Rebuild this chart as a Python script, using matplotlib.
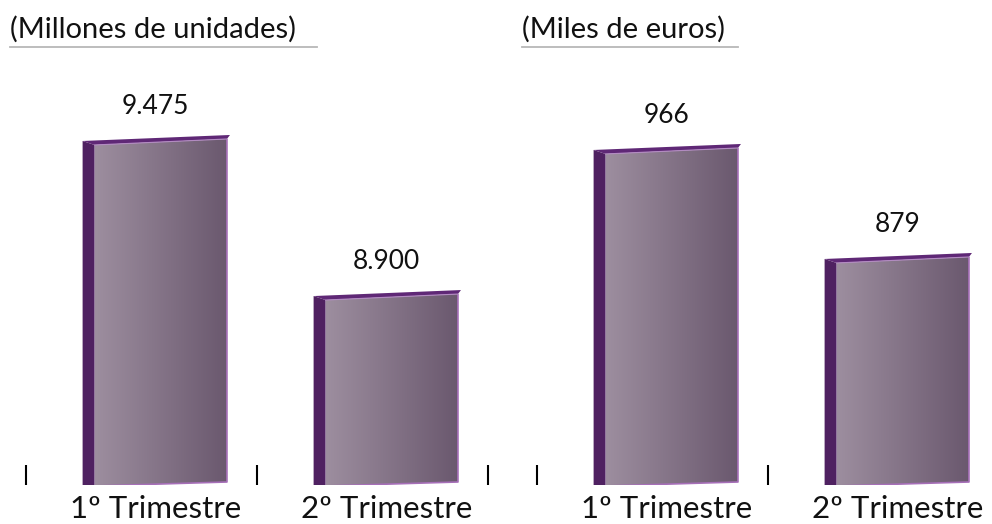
import matplotlib.pyplot as plt
import numpy as np
from matplotlib.patches import Polygon
from matplotlib.lines import Line2D
from matplotlib.colors import LinearSegmentedColormap

# data
categories = ['1º Trimestre', '2º Trimestre']
unidades = [9475, 8900]
unidades_txt = ['9.475', '8.900']
euros = [966, 879]
euros_txt = ['966', '879']
titles = ['(Millones de unidades)', '(Miles de euros)']
ylims = [(8203, 9779), (699.4, 1038.6)]

plt.rcParams['font.family'] = ['Lato', 'DejaVu Sans']

W, H = 992, 524
fig = plt.figure(figsize=(W / 100, H / 100), dpi=100)

front_cmap = LinearSegmentedColormap.from_list('front', ['#9d8e9f', '#6a586e'])
side_col = '#4f2161'
top_col = '#5f2876'
edge_col = '#a66fb8'

base_px = 485
ax_h = 425
panel_x = [26, 537]
panel_w = 462

for p, (vals, txts, ylim) in enumerate(zip([unidades, euros], [unidades_txt, euros_txt], ylims)):
    ax = fig.add_axes([panel_x[p] / W, (H - base_px) / H, panel_w / W, ax_h / H])
    ax.set_xlim(-0.5, 1.5)
    ax.set_ylim(*ylim)
    ux = 2 / panel_w
    uy = (ylim[1] - ylim[0]) / ax_h
    b = ylim[0]
    for i, v in enumerate(vals):
        x0 = i - 0.203
        x1 = i + 0.370
        xs = x0 - 12 * ux
        # side face
        ax.add_patch(Polygon([(xs, b), (x0, b - 1 * uy), (x0, v - 3 * uy), (xs, v + 1 * uy)],
                             closed=True, fc=side_col, ec='none', zorder=2))
        # top face
        ax.add_patch(Polygon([(xs, v + 1 * uy), (x0, v - 3 * uy), (x1, v + 3 * uy),
                              (x1 + 3 * ux, v + 7 * uy)],
                             closed=True, fc=top_col, ec='none', zorder=2))
        # front face with gradient
        front = Polygon([(x0, b - 1 * uy), (x1, b + 3 * uy), (x1, v + 3 * uy), (x0, v - 3 * uy)],
                        closed=True, fc='none', ec='none', zorder=3)
        ax.add_patch(front)
        grad = np.linspace(0, 1, 256).reshape(1, -1)
        im = ax.imshow(grad, cmap=front_cmap, extent=(x0, x1, b - 2 * uy, v + 4 * uy),
                       aspect='auto', zorder=3, interpolation='bilinear')
        im.set_clip_path(front)
        ax.plot([x1, x1, x0], [v + 3 * uy, b + 3 * uy, b - 1 * uy], color=edge_col, lw=1.2,
                zorder=4, solid_capstyle='butt')
        ax.plot([x0, x1], [v - 3 * uy, v + 3 * uy], color='#b38bc2', lw=0.8, zorder=4)
        ax.annotate(txts[i], (i + 0.06, v), xytext=(0, 20), textcoords='offset points',
                    ha='center', va='baseline', fontsize=19, color='#111111')
    ax.set_xlim(-0.5, 1.5)
    ax.set_ylim(*ylim)
    ax.set_xticks([i + 0.06 for i in range(len(categories))])
    ax.set_xticklabels(categories, fontsize=22.5, color='#111111')
    ax.set_xticks([-0.5, 0.5, 1.5], minor=True)
    ax.tick_params(axis='x', which='major', length=0, pad=7)
    ax.tick_params(axis='x', which='minor', direction='in', length=14.5, width=1.5, color='black')
    ax.set_yticks([])
    for s in ax.spines.values():
        s.set_visible(False)
    ax.patch.set_alpha(0)

# titles with underline
title_x = [10, 522]
line_end = [317, 738]
for t, x, xe in zip(titles, title_x, line_end):
    fig.text(x / W, 1 - 38 / H, t, fontsize=21, va='baseline', ha='left', color='#111111')
    fig.add_artist(Line2D([x / W, xe / W], [1 - 46.5 / H, 1 - 46.5 / H], color='#b8b8b8', lw=1.3))

fig.savefig('out.png', dpi=100)
